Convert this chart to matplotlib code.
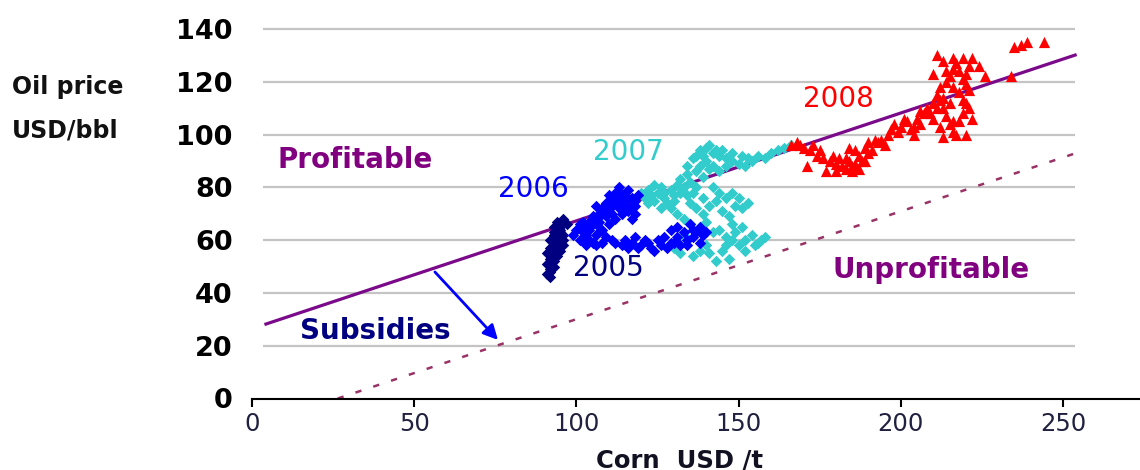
import numpy as np
import matplotlib
matplotlib.use("Agg")
import matplotlib.pyplot as plt

# corn price (USD/t) vs oil price (USD/bbl)
y2005 = [(91, 47), (92, 49), (91, 51), (92, 53), (93, 52), (91, 55), (92, 57), (93, 56),
         (94, 58), (92, 60), (93, 62), (94, 61), (95, 63), (93, 65), (94, 67), (95, 66),
         (96, 68), (95, 60), (96, 58), (94, 54), (93, 50), (92, 48), (95, 56), (96, 62),
         (94, 64), (97, 66), (92, 46), (93, 59), (92, 51), (93, 54), (94, 56), (95, 58),
         (96, 60), (95, 64), (96, 66), (94, 59), (93, 63)]
y2006 = [(99, 62), (100, 64), (101, 66), (102, 63), (101, 60), (103, 65), (104, 67), (105, 69),
         (106, 66), (107, 70), (108, 72), (109, 74), (110, 71), (111, 76), (112, 78), (113, 80),
         (114, 77), (115, 75), (116, 79), (117, 76), (118, 73), (116, 71), (114, 70), (112, 68),
         (110, 66), (108, 64), (106, 62), (104, 60), (117, 68), (118, 70), (115, 73), (113, 72),
         (111, 73), (109, 69), (107, 63), (105, 59), (108, 59), (111, 60), (114, 58), (117, 59),
         (120, 58), (123, 57), (126, 58), (128, 57), (130, 59), (132, 58), (134, 60), (136, 61),
         (138, 59), (133, 63), (131, 65), (129, 64), (135, 66), (137, 63), (139, 62), (127, 61),
         (121, 60), (119, 57), (102, 67), (110, 77), (112, 75), (106, 73),
         (103, 62), (104, 64), (105, 66), (106, 68), (107, 67), (108, 70), (109, 71), (110, 73),
         (111, 70), (112, 74), (113, 76), (114, 74), (115, 78), (116, 76), (117, 73), (118, 75),
         (119, 77), (103, 58), (106, 58), (109, 61), (112, 59), (115, 60), (118, 61), (122, 59),
         (125, 60), (129, 59), (131, 61), (134, 58), (136, 64), (138, 65), (140, 63), (124, 56),
         (116, 57)]
y2007 = [(120, 78), (121, 76), (122, 79), (123, 77), (124, 75), (125, 78), (126, 80), (127, 76),
         (128, 74), (126, 72), (129, 79), (130, 77), (131, 81), (132, 83), (133, 80), (134, 85),
         (135, 82), (136, 78), (137, 86), (138, 88), (139, 84), (140, 90), (141, 87), (136, 91),
         (138, 94), (140, 95), (142, 93), (144, 92), (146, 91), (148, 90), (150, 89), (152, 88),
         (154, 90), (156, 92), (158, 91), (160, 93), (162, 94), (164, 95), (166, 96), (135, 74),
         (137, 72), (139, 70), (141, 73), (143, 75), (145, 71), (147, 69), (149, 73), (151, 72),
         (153, 74), (133, 68), (135, 66), (138, 65), (140, 67), (142, 63), (144, 64), (146, 61),
         (148, 60), (150, 58), (152, 60), (154, 62), (156, 59), (157, 60), (145, 56), (147, 53),
         (143, 52), (141, 55), (130, 57), (132, 55), (136, 54), (131, 70), (129, 72), (133, 62),
         (148, 66), (151, 65),
         (122, 74), (124, 81), (127, 78), (130, 75), (132, 78), (134, 77), (137, 80), (139, 76),
         (142, 80), (144, 78), (146, 76), (148, 78), (150, 76), (142, 88), (144, 86), (146, 88),
         (134, 88), (137, 92), (139, 92), (141, 96), (143, 94), (145, 94), (148, 93), (151, 92),
         (153, 91), (149, 63), (146, 58), (152, 56), (155, 58), (158, 61), (134, 60), (138, 56),
         (140, 58)]
y2008 = [(166, 96), (168, 97), (170, 95), (172, 94), (171, 88), (174, 92), (176, 91), (178, 90),
         (180, 89), (182, 88), (183, 91), (184, 90), (185, 88), (186, 89), (187, 92), (188, 90),
         (186, 94), (184, 95), (189, 95), (190, 97), (192, 98), (191, 94), (185, 86), (180, 86),
         (177, 86), (194, 98), (196, 100), (198, 104), (200, 103), (202, 105), (203, 102),
         (204, 100), (205, 106), (206, 104), (207, 108), (208, 110), (210, 112), (211, 115),
         (212, 113), (213, 110), (214, 107), (215, 104), (216, 101), (217, 100), (218, 105),
         (219, 108), (220, 112), (221, 110), (222, 106), (220, 100), (213, 99), (210, 106),
         (212, 118), (214, 120), (215, 122), (216, 125), (217, 127), (218, 124), (219, 121),
         (220, 119), (221, 126), (222, 129), (224, 126), (226, 122), (213, 128), (211, 130),
         (210, 123), (234, 122), (235, 133), (237, 134), (239, 135), (244, 135),
         (169, 96), (173, 96), (175, 94), (179, 92), (181, 91), (183, 87), (187, 87), (189, 90),
         (190, 93), (193, 97), (195, 96), (197, 102), (199, 101), (201, 106), (204, 103),
         (206, 109), (209, 108), (211, 110), (213, 114), (215, 112), (216, 118), (218, 116),
         (219, 113), (221, 117), (214, 124), (216, 129), (219, 129), (220, 123), (212, 103),
         (216, 105)]

# break-even lines
line_x = [4.3, 253.7]
profit_line = [28.2, 130.1]
dash_x = [26.4, 253.1]
dash_line = [0, 92.6]

xticks = [0, 50, 100, 150, 200, 250]
yticks = [0, 20, 40, 60, 80, 100, 120, 140]

fig = plt.figure(figsize=(11.4, 4.7), dpi=100)
ax = fig.add_axes([252 / 1140, 71.5 / 470, 888 / 1140, 390.7 / 470])
ax.set_xlim(0, 273.7)
ax.set_ylim(0, 148)

ax.hlines(yticks[1:], 3.4, 253.7, color="#c4c4c4", lw=1.6, zorder=0)

ax.plot(line_x, profit_line, color="#7a0a8a", lw=2.3, zorder=1)
ax.plot(dash_x, dash_line, color="#993366", lw=1.8, ls=(0, (2.5, 5)), zorder=1)

def scatter(pts, **kw):
    a = np.array(pts)
    ax.scatter(a[:, 0], a[:, 1], linewidths=0, zorder=3, **kw)

scatter(y2007, marker="D", s=34, color="#33cccc")
scatter(y2005, marker="D", s=34, color="#000080")
scatter(y2006, marker="D", s=34, color="#0000ff")
scatter(y2008, marker="^", s=65, color="#ff0000")

ax.annotate("", xy=(76.4, 21.4), xytext=(55.8, 48.7),
            arrowprops=dict(arrowstyle="-|>", color="#0000ff", lw=2, mutation_scale=22),
            zorder=4)

ax.text(8, 90.3, "Profitable", color="#800080", fontsize=20, fontweight="bold", va="center")
ax.text(179, 48.7, "Unprofitable", color="#800080", fontsize=20, fontweight="bold", va="center")
ax.text(14.8, 25.6, "Subsidies", color="#000080", fontsize=20, fontweight="bold", va="center")
ax.text(99, 49.4, "2005", color="#000080", fontsize=20, va="center")
ax.text(75.8, 79.4, "2006", color="#0000ff", fontsize=20, va="center")
ax.text(105.1, 93.4, "2007", color="#33cccc", fontsize=20, va="center")
ax.text(169.9, 113.4, "2008", color="#ff0000", fontsize=20, va="center")

for s in ["top", "right", "left"]:
    ax.spines[s].set_visible(False)
ax.spines["bottom"].set_linewidth(1.5)

ax.set_xticks(xticks)
ax.set_yticks(yticks)
ax.tick_params(axis="x", length=6, width=1.5, pad=4, labelsize=17.5, labelcolor="#202040")
ax.tick_params(axis="y", length=0, pad=14, labelsize=19.5)
for lab in ax.get_yticklabels():
    lab.set_fontweight("bold")

fig.text(12 / 1140, 1 - 87 / 470, "Oil price", fontsize=17, fontweight="bold",
         color="#111111", va="center")
fig.text(12 / 1140, 1 - 131 / 470, "USD/bbl", fontsize=17, fontweight="bold",
         color="#111111", va="center")
fig.text(680 / 1140, 1 - 460 / 470, "Corn  USD /t", fontsize=17.5, fontweight="bold",
         color="#111122", ha="center", va="center")

fig.savefig("out.png", dpi=100)
